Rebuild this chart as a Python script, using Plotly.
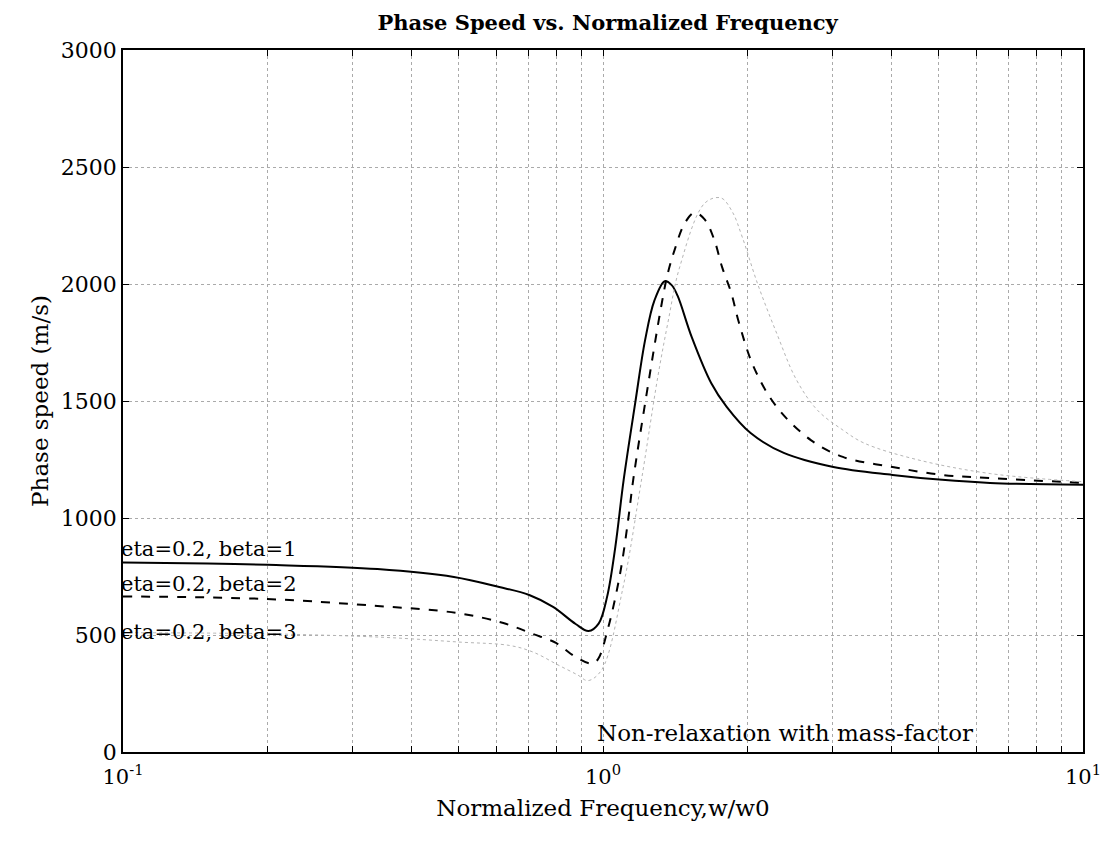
import plotly.graph_objects as go

# beta = 1 (solid)
x_b1 = [0.1, 0.15, 0.2, 0.339, 0.489, 0.608, 0.702, 0.787, 0.877, 0.933, 0.98, 1.02, 1.061, 1.104,
        1.167, 1.224, 1.28, 1.345, 1.39, 1.43, 1.53, 1.68, 1.81, 2.03, 2.38, 3.02, 4.01, 5.09, 6.4, 10]
y_b1 = [810, 806, 800, 782, 748, 705, 671, 620, 547, 517, 550, 664, 877, 1162,
        1491, 1761, 1930, 2012, 1995, 1950, 1774, 1577, 1475, 1363, 1278, 1218, 1184, 1163, 1150, 1142]

# beta = 2 (dashed)
x_b2 = [0.1, 0.198, 0.339, 0.496, 0.62, 0.715, 0.798, 0.877, 0.945, 0.975, 1.026, 1.086, 1.128, 1.156,
        1.224, 1.326, 1.365, 1.41, 1.48, 1.552, 1.63, 1.706, 1.77, 1.85, 1.92, 2.06, 2.30, 2.71, 3.16,
        4.01, 5.09, 6.37, 10]
y_b2 = [665, 654, 624, 594, 551, 504, 466, 406, 378, 395, 534, 765, 991, 1163,
        1491, 1919, 2047, 2146, 2260, 2305, 2275, 2188, 2073, 1962, 1834, 1646, 1475, 1333, 1261,
        1218, 1184, 1171, 1150]

# beta = 3 (dotted, faint)
x_b3 = [0.1, 0.2, 0.35, 0.5, 0.64, 0.715, 0.806, 0.886, 0.93, 0.993, 1.1, 1.2, 1.3, 1.365, 1.445,
        1.63, 1.76, 1.86, 1.95, 2.10, 2.30, 2.53, 2.80, 3.16, 3.5, 4.5, 6.4, 10]
y_b3 = [510, 505, 490, 470, 455, 427, 372, 329, 305, 350, 700, 1150, 1600, 1834, 2073,
        2346, 2368, 2308, 2201, 2000, 1790, 1590, 1460, 1376, 1320, 1250, 1190, 1155]

labels = ["eta=0.2, beta=1", "eta=0.2, beta=2", "eta=0.2, beta=3"]
label_y = [868, 718, 513]

x_major = [0.1, 1, 10]
x_major_text = ["10<sup>-1</sup>", "10<sup>0</sup>", "10<sup>1</sup>"]
x_minor = [0.2, 0.3, 0.4, 0.5, 0.6, 0.7, 0.8, 0.9, 2, 3, 4, 5, 6, 7, 8, 9]

title = "Phase Speed vs. Normalized Frequency"
xtitle = "Normalized Frequency,w/w0"
ytitle = "Phase speed (m/s)"
note = "Non-relaxation with mass-factor"

FONT = "DejaVu Serif"

fig = go.Figure()
fig.add_trace(go.Scatter(x=x_b1, y=y_b1, mode="lines",
                         line=dict(color="black", width=2, shape="spline", smoothing=1.0), showlegend=False))
fig.add_trace(go.Scatter(x=x_b2, y=y_b2, mode="lines",
                         line=dict(color="black", width=2, dash="dash", shape="spline", smoothing=1.0), showlegend=False))
fig.add_trace(go.Scatter(x=x_b3, y=y_b3, mode="lines",
                         line=dict(color="#b5b5b5", width=1, dash="dot", shape="spline", smoothing=1.0), showlegend=False))

for t, yv in zip(labels, label_y):
    fig.add_annotation(x=-1, y=yv, xref="x", yref="y", text=t, showarrow=False, xshift=-4,
                       xanchor="left", yanchor="middle", font=dict(family=FONT, size=21, color="black"))

fig.add_annotation(x=0.69, y=80, xref="paper", yref="y", text=note, showarrow=False,
                   xanchor="center", yanchor="middle", font=dict(family=FONT, size=23, color="black"))

fig.update_layout(
    width=1113, height=854,
    margin=dict(l=123, r=21, t=50, b=102),
    paper_bgcolor="white", plot_bgcolor="white",
    title=dict(text="<b>" + title + "</b>", x=0.546, xanchor="center", y=0.974, yanchor="middle",
               font=dict(family=FONT, size=21, color="black")),
    font=dict(family=FONT, size=21, color="black"),
)
fig.update_xaxes(type="log", range=[-1, 1], tickmode="array", tickvals=x_major, ticktext=x_major_text,
                 ticks="inside", ticklen=6, tickcolor="black", tickwidth=1,
                 showline=True, linecolor="black", linewidth=1.5, mirror="ticks",
                 showgrid=True, gridcolor="#aaaaaa", griddash="dot", gridwidth=1,
                 minor=dict(tickmode="array", tickvals=x_minor, ticks="inside", ticklen=6,
                            tickcolor="black", tickwidth=1,
                            showgrid=True, gridcolor="#aaaaaa", griddash="dot", gridwidth=1),
                 zeroline=False, ticklabelstandoff=5,
                 tickfont=dict(family=FONT, size=21, color="black"),
                 title=dict(text=xtitle, font=dict(family=FONT, size=23, color="black"), standoff=12))
fig.update_yaxes(range=[0, 3000], dtick=500, tick0=0,
                 ticks="inside", ticklen=6, tickcolor="black", tickwidth=1,
                 showline=True, linecolor="black", linewidth=1.5, mirror="ticks",
                 showgrid=True, gridcolor="#aaaaaa", griddash="dot", gridwidth=1,
                 zeroline=False,
                 tickfont=dict(family=FONT, size=22, color="black"),
                 title=dict(text=ytitle, font=dict(family=FONT, size=23, color="black"), standoff=6))

fig.write_html("out.html")
